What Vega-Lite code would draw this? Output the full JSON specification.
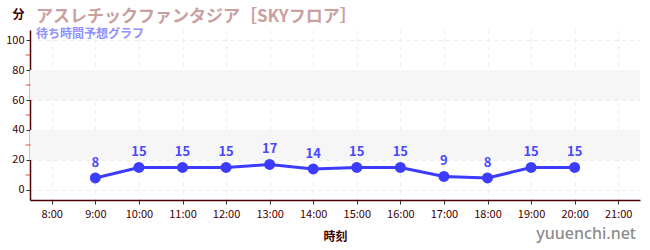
{
  "$schema": "https://vega.github.io/schema/vega-lite/v6.json",
  "width": 610,
  "height": 170,
  "autosize": {"type": "none"},
  "padding": {"left": 30, "top": 30, "right": 10, "bottom": 50},
  "background": "white",
  "config": {
    "font": "Noto Sans CJK JP",
    "view": {"stroke": null},
    "axis": {"labelFont": "Noto Sans CJK JP", "titleFont": "Noto Sans CJK JP", "labelOverlap": false}
  },
  "title": {
    "text": "アスレチックファンタジア［SKYフロア］",
    "subtitle": "待ち時間予想グラフ",
    "anchor": "start",
    "frame": "group",
    "dx": 6,
    "dy": 25,
    "offset": -8,
    "fontSize": 17,
    "fontWeight": "bold",
    "color": "#c9a0a0",
    "subtitleFontSize": 12,
    "subtitleFontWeight": "bold",
    "subtitleColor": "#9090ff",
    "subtitlePadding": 3
  },
  "datasets": {
    "wait": [
      {"hour": 9, "min": 8},
      {"hour": 10, "min": 15},
      {"hour": 11, "min": 15},
      {"hour": 12, "min": 15},
      {"hour": 13, "min": 17},
      {"hour": 14, "min": 14},
      {"hour": 15, "min": 15},
      {"hour": 16, "min": 15},
      {"hour": 17, "min": 9},
      {"hour": 18, "min": 8},
      {"hour": 19, "min": 15},
      {"hour": 20, "min": 15}
    ],
    "bands": [
      {"lo": 20, "hi": 40},
      {"lo": 60, "hi": 80}
    ]
  },
  "layer": [
    {
      "data": {"name": "bands"},
      "mark": {"type": "rect", "color": "#f6f6f6"},
      "encoding": {
        "y": {
          "field": "lo", "type": "quantitative",
          "scale": {"domain": [-6.67, 106.67], "nice": false, "zero": false},
          "axis": {
            "values": [0, 20, 40, 60, 80, 100],
            "tickCount": 20,
            "labelOverlap": false,
            "title": "分",
            "titleAngle": 0,
            "titleX": -12,
            "titleY": -9,
            "titleFontSize": 12,
            "titleFontWeight": "bold",
            "titleColor": "#400000",
            "labelFontSize": 11,
            "labelColor": "#400000",
            "labelPadding": 2,
            "domainColor": "#500000",
            "domainWidth": 1.5,
            "tickColor": "#333",
            "tickSize": 4,
            "grid": true,
            "gridColor": "#ececec",
            "gridDash": [4, 4]
          }
        },
        "y2": {"field": "hi"}
      }
    },
    {
      "data": {"values": [{"m": 10}, {"m": 30}, {"m": 50}, {"m": 70}, {"m": 90}]},
      "mark": {"type": "tick", "orient": "horizontal", "color": "#cc0000", "size": 5, "thickness": 1, "xOffset": -2},
      "encoding": {
        "y": {"field": "m", "type": "quantitative"},
        "x": {
          "datum": 7.5, "type": "quantitative",
          "scale": {"domain": [7.5, 21.5], "nice": false, "zero": false},
          "axis": {
            "values": [8, 9, 10, 11, 12, 13, 14, 15, 16, 17, 18, 19, 20, 21],
            "tickCount": 30,
            "labelExpr": "datum.value + ':00'",
            "labelOverlap": false,
            "title": "時刻",
            "titleFontSize": 12,
            "titleFontWeight": "bold",
            "titleColor": "#400000",
            "titlePadding": 12,
            "labelFontSize": 11,
            "labelColor": "#400000",
            "labelPadding": 4,
            "domainColor": "#500000",
            "domainWidth": 1.5,
            "tickColor": "#333",
            "tickSize": 4,
            "grid": true,
            "gridColor": "#ececec",
            "gridDash": [4, 4]
          }
        }
      }
    },
    {
      "data": {"name": "wait"},
      "mark": {"type": "line", "color": "#3c3cff", "strokeWidth": 3},
      "encoding": {
        "x": {"field": "hour", "type": "quantitative"},
        "y": {"field": "min", "type": "quantitative"}
      }
    },
    {
      "data": {"name": "wait"},
      "mark": {"type": "circle", "color": "#3c3cff", "size": 120, "opacity": 1},
      "encoding": {
        "x": {"field": "hour", "type": "quantitative"},
        "y": {"field": "min", "type": "quantitative"}
      }
    },
    {
      "data": {"name": "wait"},
      "mark": {"type": "text", "color": "#4848ff", "fontSize": 13, "fontWeight": "bold", "dy": -15},
      "encoding": {
        "x": {"field": "hour", "type": "quantitative"},
        "y": {"field": "min", "type": "quantitative"},
        "text": {"field": "min", "type": "quantitative"}
      }
    },
    {
      "data": {"values": [{"t": "yuuenchi.net"}]},
      "mark": {"type": "text", "color": "#8c8c8c", "fontSize": 16, "font": "Noto Sans", "fontWeight": 500, "align": "right", "baseline": "middle", "clip": false, "dx": -4, "dy": 34},
      "encoding": {
        "x": {"datum": 21.5, "type": "quantitative"},
        "y": {"datum": -6.67, "type": "quantitative"},
        "text": {"field": "t", "type": "nominal"}
      }
    }
  ]
}
